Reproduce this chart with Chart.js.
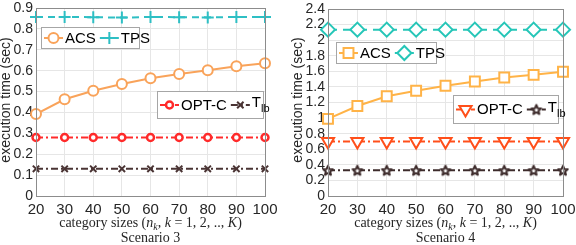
<!DOCTYPE html>
<html>
<head>
<meta charset="utf-8">
<script src="https://cdn.jsdelivr.net/npm/chart.js@4/dist/chart.umd.min.js"></script>
<style>
body { margin: 0; background: #fff; }
#wrap { position: relative; width: 576px; height: 245px; }
.pane { position: absolute; top: 0; width: 288px; height: 245px; }
</style>
</head>
<body>
<div id="wrap">
  <div class="pane" style="left:0"><canvas id="sc3" width="288" height="245"></canvas></div>
  <div class="pane" style="left:288px"><canvas id="sc4" width="288" height="245"></canvas></div>
</div>
<script>
// category sizes n_k
var sizes = ['20', '30', '40', '50', '60', '70', '80', '90', '100'];

// Scenario 3
var acs3  = [0.392, 0.463, 0.504, 0.536, 0.564, 0.584, 0.602, 0.621, 0.636];
var tps3  = [0.857, 0.857, 0.856, 0.854, 0.857, 0.856, 0.855, 0.857, 0.857];
var optc3 = [0.28, 0.28, 0.28, 0.28, 0.28, 0.28, 0.28, 0.28, 0.28];
var tlb3  = [0.13, 0.13, 0.13, 0.13, 0.13, 0.13, 0.13, 0.13, 0.13];
var yTicks3 = [0, 0.1, 0.2, 0.3, 0.4, 0.5, 0.6, 0.7, 0.8, 0.9];

// Scenario 4
var acs4  = [0.99, 1.155, 1.28, 1.35, 1.415, 1.47, 1.52, 1.555, 1.595];
var tps4  = [2.135, 2.135, 2.135, 2.135, 2.135, 2.135, 2.135, 2.135, 2.135];
var optc4 = [0.70, 0.70, 0.70, 0.70, 0.70, 0.70, 0.70, 0.70, 0.70];
var tlb4  = [0.33, 0.33, 0.33, 0.33, 0.33, 0.33, 0.33, 0.33, 0.33];
var yTicks4 = [0, 0.2, 0.4, 0.6, 0.8, 1, 1.2, 1.4, 1.6, 1.8, 2, 2.2, 2.4];

var SANS = '"Liberation Sans", Arial, sans-serif';
var SERIF = '"Liberation Serif", "DejaVu Serif", serif';

//- pentagram marker -
function starImage(color, r) {
    var c = document.createElement('canvas');
    var s = Math.ceil(r * 2 + 4);
    c.width = s; c.height = s;
    var g = c.getContext('2d');
    g.translate(s / 2, s / 2 + 0.5);
    g.beginPath();
    for (var i = 0; i < 10; i++) {
        var rr = i % 2 === 0 ? r : r * 0.45;
        var a = -Math.PI / 2 + i * Math.PI / 5;
        g.lineTo(rr * Math.cos(a), rr * Math.sin(a));
    }
    g.closePath();
    g.fillStyle = '#fff';
    g.fill();
    g.lineWidth = 2;
    g.lineJoin = 'round';
    g.strokeStyle = color;
    g.stroke();
    return c;
}

function ds(label, data, color, style, radius, dash, extra) {
    var d = {
        label: label,
        data: data,
        borderColor: color,
        backgroundColor: '#fff',
        pointBorderColor: color,
        pointBackgroundColor: '#fff',
        borderWidth: 2,
        borderDash: dash,
        pointStyle: style,
        pointRadius: radius,
        pointBorderWidth: 2,
        pointRotation: 0,
        tension: 0,
        fill: false
    };
    for (var k in extra) d[k] = extra[k];
    return d;
}

//- frame, titles, legends -
var framePlugin = {
    id: 'frame',
    afterDraw: function(chart) {
        var o = chart.options.plugins.frame;
        var ctx = chart.ctx;
        var a = chart.chartArea;
        ctx.save();
        ctx.strokeStyle = '#8c8c8c';
        ctx.lineWidth = 1;
        ctx.strokeRect(Math.round(a.left) + 0.5, Math.round(a.top) + 0.5,
            Math.round(a.right - a.left), Math.round(a.bottom - a.top));

        // y title
        ctx.fillStyle = '#262626';
        ctx.font = '14px ' + SANS;
        ctx.textAlign = 'center';
        ctx.textBaseline = 'middle';
        ctx.translate(o.yTitleX, 100);
        ctx.rotate(-Math.PI / 2);
        ctx.fillText('execution time (sec)', 0, 0);
        ctx.restore();

        // x title with math parts
        ctx.save();
        ctx.fillStyle = '#262626';
        ctx.textBaseline = 'alphabetic';
        var parts = [
            ['category sizes (', '14px ' + SERIF, 0],
            ['n', 'italic 14px ' + SERIF, 0],
            ['k', 'italic 10px ' + SERIF, 3],
            [', ', '14px ' + SERIF, 0],
            ['k', 'italic 14px ' + SERIF, 0],
            [' = 1, 2, .., ', '14px ' + SERIF, 0],
            ['K', 'italic 14px ' + SERIF, 0],
            [')', '14px ' + SERIF, 0]
        ];
        var total = 0;
        parts.forEach(function(p) { ctx.font = p[1]; total += ctx.measureText(p[0]).width; });
        var cx = (a.left + a.right) / 2;
        var x = cx - total / 2;
        ctx.textAlign = 'left';
        parts.forEach(function(p) {
            ctx.font = p[1];
            ctx.fillText(p[0], x, 227 + p[2]);
            x += ctx.measureText(p[0]).width;
        });
        ctx.font = '14px ' + SERIF;
        ctx.textAlign = 'center';
        ctx.fillText(o.scenario, cx, 242);
        ctx.restore();

        // legend boxes
        o.legends.forEach(function(box) {
            ctx.save();
            ctx.fillStyle = '#fff';
            ctx.fillRect(box.x, box.y, box.w, box.h);
            ctx.strokeStyle = '#a6a6a6';
            ctx.lineWidth = 1;
            ctx.strokeRect(box.x + 0.5, box.y + 0.5, box.w, box.h);
            var cy = box.y + box.h / 2 + 0.5;
            var lx = box.x + 3;
            box.items.forEach(function(i) {
                var d = chart.data.datasets[i];
                ctx.strokeStyle = d.borderColor;
                ctx.lineWidth = 2;
                ctx.setLineDash(d.borderDash || []);
                ctx.beginPath();
                ctx.moveTo(lx, cy);
                ctx.lineTo(lx + 19, cy);
                ctx.stroke();
                ctx.setLineDash([]);
                ctx.fillStyle = '#fff';
                ctx.strokeStyle = d.borderColor;
                ctx.lineWidth = d.pointBorderWidth;
                Chart.helpers.drawPoint(ctx, {
                    pointStyle: d.pointStyle,
                    radius: d.pointRadius,
                    rotation: d.pointRotation,
                    borderWidth: d.pointBorderWidth
                }, lx + 9.5, cy);
                lx += 21;
                ctx.fillStyle = '#000';
                ctx.textBaseline = 'middle';
                ctx.textAlign = 'left';
                if (d.label === 'T_lb') {
                    ctx.font = '15px ' + SANS;
                    ctx.fillText('T', lx, cy - 2);
                    lx += ctx.measureText('T').width;
                    ctx.font = '11px ' + SANS;
                    ctx.fillText('lb', lx, cy + 4);
                    lx += ctx.measureText('lb').width + 5;
                } else {
                    ctx.font = '15px ' + SANS;
                    ctx.fillText(d.label, lx, cy + 0.5);
                    lx += ctx.measureText(d.label).width + 4;
                }
            });
            ctx.restore();
        });
    }
};

function makeChart(id, datasets, yMax, yTicks, pad, yWidth, extra) {
    var ctx = document.getElementById(id).getContext('2d');
    return new Chart(ctx, {
        type: 'line',
        data: { labels: sizes, datasets: datasets },
        options: {
            responsive: false,
            animation: false,
            layout: { padding: pad },
            plugins: {
                legend: { display: false },
                tooltip: { enabled: false },
                frame: extra
            },
            scales: {
                x: {
                    offset: false,
                    grid: { color: '#e6e6e6', drawTicks: false },
                    border: { display: false },
                    ticks: { color: '#262626', font: { family: SANS, size: 15 }, padding: 5, maxRotation: 0, autoSkip: false },
                    afterFit: function(s) {
                        s.height = 49;
                        s.paddingLeft = 0; s.paddingRight = 0;
                    }
                },
                y: {
                    min: 0,
                    max: yMax,
                    grid: { color: '#e6e6e6', drawTicks: false },
                    border: { display: false },
                    ticks: {
                        color: '#262626',
                        font: { family: SANS, size: 14 },
                        padding: 3,
                        autoSkip: false,
                        callback: function(v) { return String(v); }
                    },
                    afterBuildTicks: function(s) {
                        s.ticks = yTicks.map(function(v) { return { value: v }; });
                    },
                    afterFit: function(s) {
                        s.width = yWidth;
                        s.paddingTop = 0; s.paddingBottom = 0;
                    }
                }
            }
        },
        plugins: [framePlugin]
    });
}

var dashed = [7, 5];
var dashDot = [7, 3, 2, 3];

makeChart('sc3', [
    ds('ACS', acs3, '#f9a35a', 'circle', 5, [], {}),
    ds('TPS', tps3, '#2ebfc4', 'cross', 6, dashed, {}),
    ds('OPT-C', optc3, '#ff2a2a', 'circle', 3.5, dashDot, { pointBorderWidth: 2.5 }),
    ds('T_lb', tlb3, '#4a3434', 'crossRot', 4.5, dashDot, {})
], 0.9, yTicks3, { left: 0, right: 23, top: 5, bottom: 0 }, 36, {
    yTitleX: 6,
    scenario: 'Scenario 3',
    legends: [
        { x: 41, y: 27, w: 98, h: 21, items: [0, 1] },
        { x: 157, y: 91, w: 106, h: 27, items: [2, 3] }
    ]
});

makeChart('sc4', [
    ds('ACS', acs4, '#ffb347', 'rect', 7, [], {}),
    ds('TPS', tps4, '#26c6b8', 'rectRot', 7, [9, 6], {}),
    ds('OPT-C', optc4, '#ff4f1a', 'triangle', 7, dashDot, { pointRotation: 180 }),
    ds('T_lb', tlb4, '#3d2b2b', starImage('#3d2b2b', 5), 5, dashDot, {})
], 2.4, yTicks4, { left: 0, right: 13, top: 5, bottom: 0 }, 40, {
    yTitleX: 10,
    scenario: 'Scenario 4',
    legends: [
        { x: 48, y: 42, w: 100, h: 21, items: [0, 1] },
        { x: 165, y: 95, w: 105, h: 28, items: [2, 3] }
    ]
});
</script>
</body>
</html>
